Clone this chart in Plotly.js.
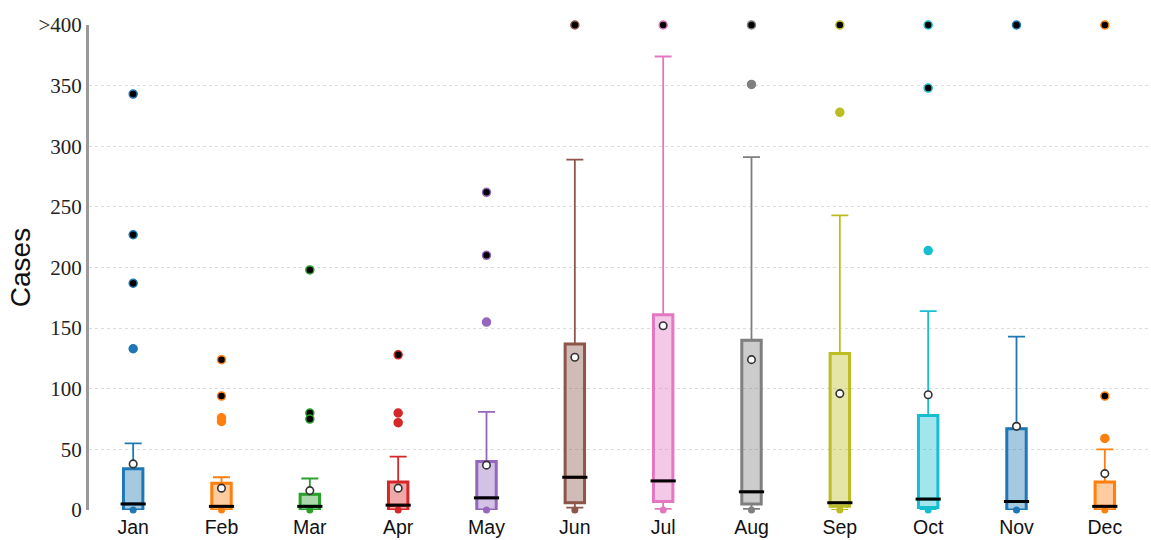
<!DOCTYPE html>
<html>
<head>
<meta charset="utf-8">
<script src="https://cdn.plot.ly/plotly-3.0.1.min.js"></script>
<style>
  html, body { margin: 0; padding: 0; background: #fff; }
  #chart { width: 1151px; height: 540px; }
</style>
</head>
<body>
<div id="chart"></div>
<script>
// Monthly case counts: box summaries per month
const months = ['Jan', 'Feb', 'Mar', 'Apr', 'May', 'Jun', 'Jul', 'Aug', 'Sep', 'Oct', 'Nov', 'Dec'];
const q1Values     = [0, 0, 0, 0, 0, 6, 7, 5, 3, 2, 0, 0];
const medianValues = [5, 3, 3, 4, 10, 27, 24, 15, 6, 9, 7, 3];
const q3Values     = [34, 22, 13, 23, 40, 137, 161, 140, 129, 78, 67, 23];
const lowerWhisker = [0, 0, 0, 0, 0, 2, 1, 1, 0, 0, 0, 0];
const upperWhisker = [55, 27, 26, 44, 81, 289, 374, 291, 243, 164, 143, 50];
const meanValues   = [38, 18, 16, 18, 37, 126, 152, 124, 96, 95, 69, 30];
const minValues    = [0, 0, 0, 0, 0, 0, 0, 0, 0, 0, 0, 0];
// outliers beyond 1.5 IQR (mild) and beyond 3 IQR (extreme); values above 400 shown at the cap
const mildOutliers = [[133], [76, 73], [], [80, 72], [155], [], [], [351], [328], [214], [], [59]];
const extremeOutliers = [[343, 227, 187], [124, 94], [198, 80, 75], [128], [262, 210], [400], [400], [400], [400], [400, 348], [400], [94, 400]];
const yTickVals = [0, 50, 100, 150, 200, 250, 300, 350, 400];
const yTickText = ['0', '50', '100', '150', '200', '250', '300', '350', '>400'];
const monthColors = ['#1f77b4', '#ff7f0e', '#2ca02c', '#d62728', '#9467bd', '#8c564b',
                     '#e377c2', '#7f7f7f', '#bcbd22', '#17becf', '#1f77b4', '#ff7f0e'];

const yCap = 400;

function withAlpha(hex, a) {
  const r = parseInt(hex.slice(1, 3), 16);
  const g = parseInt(hex.slice(3, 5), 16);
  const b = parseInt(hex.slice(5, 7), 16);
  return `rgba(${r},${g},${b},${a})`;
}

const traces = [];
const boxWidth = 0.22;

months.forEach((m, i) => {
  const c = monthColors[i];
  // box body (whiskers drawn separately, thinner)
  traces.push({
    type: 'box', x: [m],
    q1: [q1Values[i]], median: [medianValues[i]], q3: [q3Values[i]],
    lowerfence: [q1Values[i]], upperfence: [q3Values[i]],
    width: boxWidth, whiskerwidth: 0, boxpoints: false,
    fillcolor: withAlpha(c, 0.4),
    line: { color: c, width: 3 },
    hoverinfo: 'skip', showlegend: false
  });
});

months.forEach((m, i) => {
  const c = monthColors[i];
  // whiskers with caps
  traces.push({
    type: 'scatter', mode: 'markers', x: [m, m], y: [q3Values[i], q1Values[i]],
    marker: { size: 1, color: 'rgba(0,0,0,0)' },
    error_y: {
      type: 'data', symmetric: false,
      array: [upperWhisker[i] - q3Values[i], 0],
      arrayminus: [0, q1Values[i] - lowerWhisker[i]],
      color: c, thickness: 1.8, width: 8.5
    },
    hoverinfo: 'skip', showlegend: false, cliponaxis: false
  });
  // minimum
  traces.push({
    type: 'scatter', mode: 'markers', x: [m], y: [minValues[i]],
    marker: { size: 7, color: c },
    hoverinfo: 'skip', showlegend: false, cliponaxis: false
  });
  // median bar
  traces.push({
    type: 'scatter', mode: 'markers', x: [m], y: [medianValues[i]],
    marker: { symbol: 'line-ew', size: 18, line: { color: '#000', width: 3 } },
    hoverinfo: 'skip', showlegend: false, cliponaxis: false
  });
  // mean
  traces.push({
    type: 'scatter', mode: 'markers', x: [m], y: [meanValues[i]],
    marker: { symbol: 'circle', size: 7.5, color: '#fff', line: { color: '#333', width: 1.6 } },
    hoverinfo: 'skip', showlegend: false, cliponaxis: false
  });
  // outliers
  const mild = mildOutliers[i].map(v => Math.min(v, yCap));
  const extreme = extremeOutliers[i].map(v => Math.min(v, yCap));
  const ys = mild.concat(extreme);
  if (ys.length) {
    traces.push({
      type: 'scatter', mode: 'markers', x: ys.map(() => m), y: ys,
      marker: {
        size: 8,
        color: mild.map(() => c).concat(extreme.map(() => '#000')),
        line: { color: c, width: 1.5 }
      },
      hoverinfo: 'skip', showlegend: false, cliponaxis: false
    });
  }
});

const layout = {
  width: 1151, height: 540,
  margin: { l: 89, r: 2, t: 25, b: 30 },
  paper_bgcolor: '#fff', plot_bgcolor: '#fff',
  showlegend: false,
  boxmode: 'overlay',
  xaxis: {
    type: 'category', categoryarray: months, range: [-0.5, 11.5],
    showgrid: false, zeroline: false, showline: false, ticks: '',
    ticklabelstandoff: 3,
    tickfont: { family: 'Liberation Sans, Arial, sans-serif', size: 19.5, color: '#111' }
  },
  yaxis: {
    range: [0, 400],
    tickvals: yTickVals, ticktext: yTickText,
    showgrid: true, gridcolor: '#dcdcdc', griddash: '3px,3px', gridwidth: 1,
    zeroline: false, showline: true, linecolor: '#999', linewidth: 3,
    ticks: '',
    tickfont: { family: 'Liberation Serif, Times New Roman, serif', size: 21, color: '#222' },
    title: { text: 'Cases', font: { family: 'Liberation Sans, Arial, sans-serif', size: 28, color: '#111' }, standoff: 0 }
  }
};

Plotly.newPlot('chart', traces, layout, { displayModeBar: false, staticPlot: true });
</script>
</body>
</html>
